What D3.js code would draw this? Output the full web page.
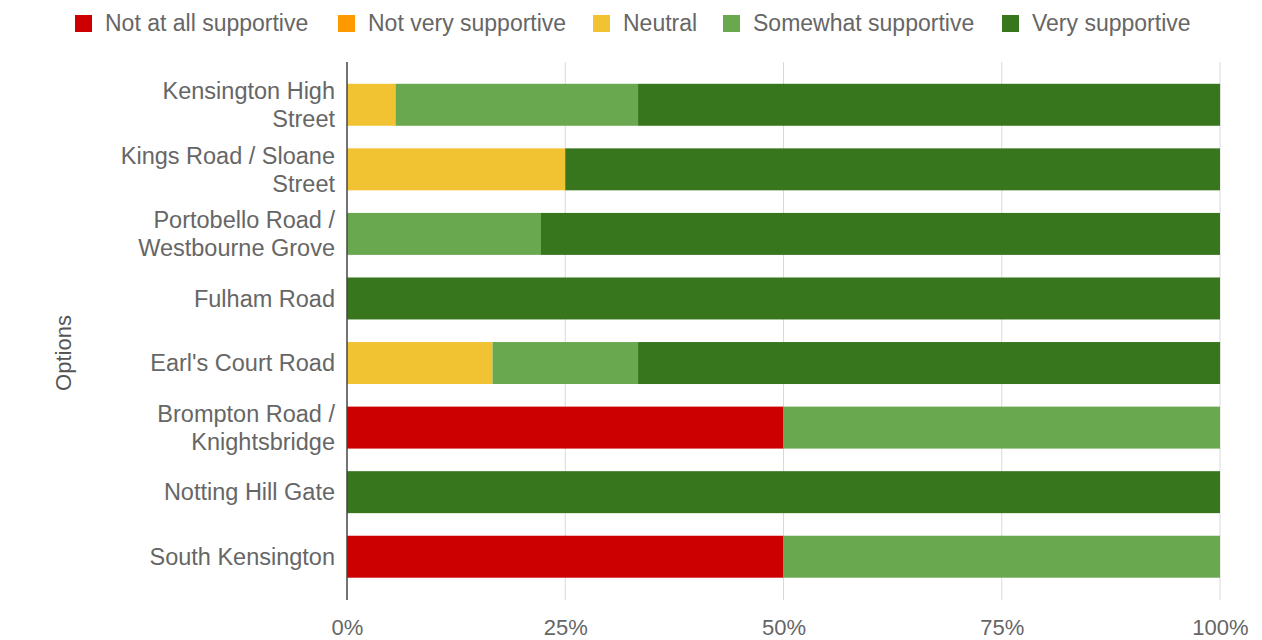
<!DOCTYPE html>
<html>
<head>
<meta charset="utf-8">
<script src="https://cdn.jsdelivr.net/npm/d3@7"></script>
<style>
  html, body { margin: 0; padding: 0; background: #fff; }
  svg { display: block; font-family: "Liberation Sans", Arial, sans-serif; }
</style>
</head>
<body>
<svg id="chart" width="1262" height="640"></svg>
<script>
// ---- data ----
const categories = [
  ["Kensington High", "Street"],
  ["Kings Road / Sloane", "Street"],
  ["Portobello Road /", "Westbourne Grove"],
  ["Fulham Road"],
  ["Earl's Court Road"],
  ["Brompton Road /", "Knightsbridge"],
  ["Notting Hill Gate"],
  ["South Kensington"]
];
const seriesNames = ["Not at all supportive", "Not very supportive", "Neutral", "Somewhat supportive", "Very supportive"];
const notAtAll   = [0, 0, 0, 0, 0, 50, 0, 50];
const notVery    = [0, 0, 0, 0, 0, 0, 0, 0];
const neutral    = [5.56, 25, 0, 0, 16.67, 0, 0, 0];
const somewhat   = [27.78, 0, 22.22, 0, 16.67, 50, 0, 50];
const very       = [66.67, 75, 77.78, 100, 66.67, 0, 100, 0];
const xTicks = [0, 25, 50, 75, 100];
const colors = ["#cc0000", "#ff9900", "#f1c232", "#6aa84f", "#38761d"];

const seriesValues = [notAtAll, notVery, neutral, somewhat, very];

const svg = d3.select("#chart");
const plotL = 347, plotR = 1220, plotT = 62, plotB = 600;

const x = d3.scaleLinear().domain([0, 100]).range([plotL, plotR]);
const y = d3.scaleBand()
  .domain(d3.range(categories.length))
  .range([72.5, 589])
  .paddingInner(0.35)
  .paddingOuter(0.175);

// gridlines
svg.append("g")
  .selectAll("line")
  .data(xTicks.slice(1))
  .join("line")
  .attr("x1", d => x(d)).attr("x2", d => x(d))
  .attr("y1", plotT).attr("y2", plotB)
  .attr("stroke", "#d9d9d9").attr("stroke-width", 1);

// stacked bars
const rows = categories.map((c, i) => {
  const o = { idx: i };
  seriesNames.forEach((s, k) => o[s] = seriesValues[k][i]);
  return o;
});
const stack = d3.stack().keys(seriesNames)(rows);

stack.forEach((layer, k) => {
  svg.append("g")
    .attr("fill", colors[k])
    .selectAll("rect")
    .data(layer.filter(d => d[1] - d[0] > 0))
    .join("rect")
    .attr("x", d => x(d[0]))
    .attr("y", d => y(d.data.idx))
    .attr("width", d => x(d[1]) - x(d[0]))
    .attr("height", y.bandwidth());
});

// y axis line
svg.append("line")
  .attr("x1", plotL).attr("x2", plotL)
  .attr("y1", plotT).attr("y2", plotB)
  .attr("stroke", "#444").attr("stroke-width", 1.5);

// y category labels
const yl = svg.append("g").attr("fill", "#666").attr("font-size", 23.5).attr("text-anchor", "end");
categories.forEach((lines, i) => {
  const cy = y(i) + y.bandwidth() / 2;
  const n = lines.length;
  lines.forEach((t, j) => {
    yl.append("text")
      .attr("x", plotL - 12)
      .attr("y", cy + (j - (n - 1) / 2) * 28)
      .attr("dy", "0.35em")
      .text(t);
  });
});

// x axis tick labels
const xAxis = d3.axisBottom(x).tickValues(xTicks).tickFormat(d => d + "%").tickSize(0).tickPadding(0);
const gx = svg.append("g").attr("transform", `translate(0,${plotB + 19})`).call(xAxis);
gx.select(".domain").remove();
gx.selectAll("text").attr("fill", "#666").attr("font-size", 22)
  .attr("font-family", "Liberation Sans, Arial, sans-serif");

// axis title
svg.append("text")
  .attr("transform", "translate(71,353) rotate(-90)")
  .attr("text-anchor", "middle")
  .attr("fill", "#555").attr("font-size", 22)
  .text("Options");

// legend
const legendX = [75, 338, 593, 723, 1002];
const lg = svg.append("g");
seriesNames.forEach((s, k) => {
  lg.append("rect").attr("x", legendX[k]).attr("y", 15).attr("width", 17).attr("height", 17).attr("fill", colors[k]);
  lg.append("text").attr("x", legendX[k] + 30).attr("y", 23).attr("dy", "0.35em")
    .attr("font-size", 23).attr("fill", "#666").text(s);
});
</script>
</body>
</html>
